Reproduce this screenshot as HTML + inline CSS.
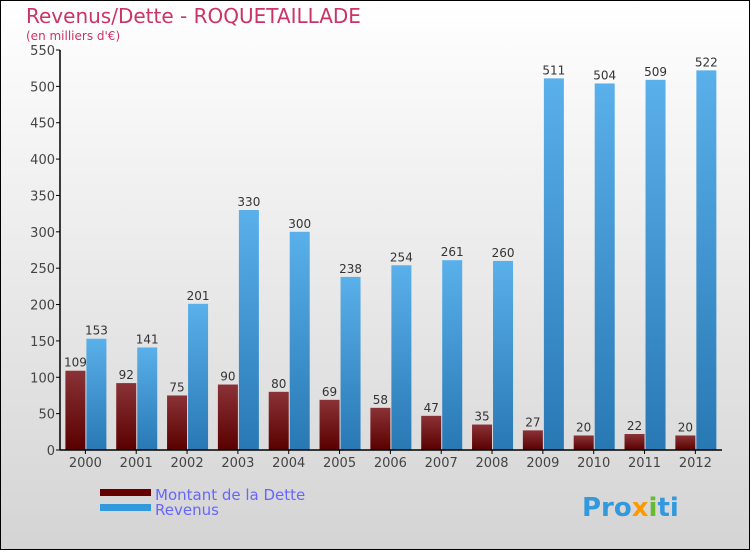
<!DOCTYPE html>
<html><head><meta charset="utf-8"><style>
body{margin:0;}
#c{width:750px;height:550px;position:relative;font-family:"DejaVu Sans","Liberation Sans",sans-serif;}
</style></head><body>
<div id="c">
<svg id="s" width="750" height="550" xmlns="http://www.w3.org/2000/svg">
<defs>
<linearGradient id="bg" x1="0" y1="0" x2="0" y2="1"><stop offset="0" stop-color="#ffffff"/><stop offset="1" stop-color="#d4d4d4"/></linearGradient>
<linearGradient id="gd" x1="0" y1="0" x2="0" y2="1"><stop offset="0" stop-color="#8a3236"/><stop offset="1" stop-color="#5a0000"/></linearGradient>
<linearGradient id="gr" x1="0" y1="0" x2="0" y2="1"><stop offset="0" stop-color="#5ab0ea"/><stop offset="1" stop-color="#2878b4"/></linearGradient>
</defs>
<rect x="0.5" y="0.5" width="749" height="549" fill="url(#bg)" stroke="#000"/>
<text x="26" y="23" font-size="20" fill="#cc3366">Revenus/Dette - ROQUETAILLADE</text>
<text x="26" y="40" font-size="12" fill="#cc3366">(en milliers d'€)</text>
<g id="plot"></g>
<rect x="100" y="489" width="51" height="7" fill="#660000"/>
<text x="155" y="500" font-size="15" fill="#6666ff">Montant de la Dette</text>
<rect x="100" y="504" width="51" height="7" fill="#3399dd"/>
<text x="155" y="515" font-size="15" fill="#6666ff">Revenus</text>
<text x="582" y="516" font-size="26" font-weight="bold" fill="#3399dd">Pro<tspan fill="#ff9900">x</tspan><tspan fill="#66bb33">i</tspan>ti</text>
</svg>
</div>
<script>
const years=["2000","2001","2002","2003","2004","2005","2006","2007","2008","2009","2010","2011","2012"];
const dette=[109,92,75,90,80,69,58,47,35,27,20,22,20];
const revenus=[153,141,201,330,300,238,254,261,260,511,504,509,522];
const yTicks=[0,50,100,150,200,250,300,350,400,450,500,550];
const NS="http://www.w3.org/2000/svg";
const g=document.getElementById("plot");
const x0=60,y0=450,step=50.83,yMax=550,h=400;
const y=v=>y0-v/yMax*h;
function mk(t,a,txt){const e=document.createElementNS(NS,t);for(const k in a)e.setAttribute(k,a[k]);if(txt!==undefined)e.textContent=txt;g.appendChild(e);return e;}
yTicks.forEach(v=>{
 const l=mk("line",{x1:x0-4,x2:x0,y1:y(v),y2:y(v),stroke:"#000"});
 
 
 const t=mk("text",{x:x0-5,y:y(v)+5,"font-size":13,fill:"#444","text-anchor":"end"},v);
 
 
});
years.forEach((yr,i)=>{
 const c=x0+step*i+25.4;
 const d=mk("rect",{x:c-20,y:y(dette[i]),width:20,height:y0-y(dette[i]),fill:"url(#gd)"});
 
 
 const r=mk("rect",{x:c+1,y:y(revenus[i]),width:20,height:y0-y(revenus[i]),fill:"url(#gr)"});
 
 
 const dl=mk("text",{x:c-10,y:y(dette[i])-4,"font-size":12,fill:"#333","text-anchor":"middle"},dette[i]);
 
 
 const rl=mk("text",{x:c+11,y:y(revenus[i])-4,"font-size":12,fill:"#333","text-anchor":"middle"},revenus[i]);
 
 
 const tk=mk("line",{x1:c,x2:c,y1:y0,y2:y0+4,stroke:"#000"});
 
 
 const xl=mk("text",{x:c,y:y0+17,"font-size":13,fill:"#444","text-anchor":"middle"},yr);
 
 
});
const ya=mk("line",{x1:x0,x2:x0,y1:y(550),y2:y0,stroke:"#000","stroke-width":1.5});


const xa=mk("line",{x1:x0,x2:722,y1:y0,y2:y0,stroke:"#000","stroke-width":1.5});


</script>
</body></html>
